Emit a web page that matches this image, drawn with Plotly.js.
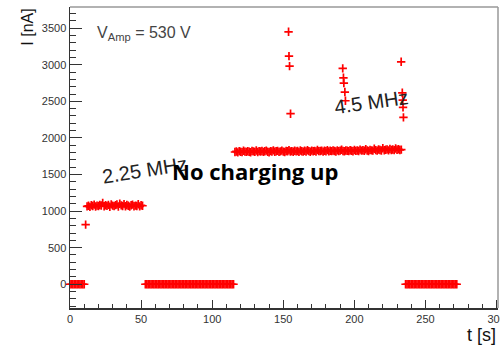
<!DOCTYPE html>
<html>
<head>
<meta charset="utf-8">
<script src="https://cdn.plot.ly/plotly-3.0.1.min.js"></script>
<style>html,body{margin:0;padding:0;background:#fff}#plot{width:500px;height:348px}</style>
</head>
<body>
<div id="plot"></div>
<script>
// Beam off (current at zero)
var t_off = [0,1,2,3,4,5,6,7,8,9,10,
  53,54,55,56,57,58,59,60,61,62,63,64,65,66,67,68,69,70,71,72,73,74,75,76,77,78,79,80,81,82,83,84,
  85,86,87,88,89,90,91,92,93,94,95,96,97,98,99,100,101,102,103,104,105,106,107,108,109,110,111,112,113,114,115,
  236,237,238,239,240,241,242,243,244,245,246,247,248,249,250,251,252,253,254,255,256,257,258,259,260,
  261,262,263,264,265,266,267,268,269,270,271,272];
var i_off = [0,0,0,0,0,0,0,0,0,0,0,
  0,0,0,0,0,0,0,0,0,0,0,0,0,0,0,0,0,0,0,0,0,0,0,0,0,0,0,0,0,0,0,0,
  0,0,0,0,0,0,0,0,0,0,0,0,0,0,0,0,0,0,0,0,0,0,0,0,0,0,0,0,0,0,0,
  0,0,0,0,0,0,0,0,0,0,0,0,0,0,0,0,0,0,0,0,0,0,0,0,0,
  0,0,0,0,0,0,0,0,0,0,0,0];

// 2.25 MHz plateau
var t_225 = [12,13,14,15,16,17,18,19,20,21,22,23,24,25,26,27,28,29,30,31,
  32,33,34,35,36,37,38,39,40,41,42,43,44,45,46,47,48,49,50,51];
var i_225 = [1065,1072,1058,1080,1070,1088,1062,1075,1069,1083,1077,1110,1066,1079,1071,1085,1060,1092,1074,1068,
  1081,1090,1063,1100,1078,1070,1095,1066,1084,1072,1061,1079,1088,1067,1075,1070,1093,1064,1080,1073];

// 4.5 MHz plateau
var t_45 = [116,117,118,119,120,121,122,123,124,125,126,127,128,129,130,131,132,133,134,135,
  136,137,138,139,140,141,142,143,144,145,146,147,148,149,150,151,152,153,154,155,
  156,157,158,159,160,161,162,163,164,165,166,167,168,169,170,171,172,173,174,175,
  176,177,178,179,180,181,182,183,184,185,186,187,188,189,190,191,192,193,194,195,
  196,197,198,199,200,201,202,203,204,205,206,207,208,209,210,211,212,213,214,215,
  216,217,218,219,220,221,222,223,224,225,226,227,228,229,230,231,232,233];
var i_45 = [1808,1815,1802,1820,1811,1806,1825,1813,1809,1818,1812,1804,1822,1816,1810,1828,1807,1819,1814,1821,
  1809,1817,1826,1811,1805,1820,1815,1830,1812,1818,1823,1810,1816,1827,1813,1808,1821,1817,1832,1814,
  1819,1811,1825,1816,1822,1809,1829,1818,1813,1824,1815,1831,1820,1812,1826,1817,1823,1814,1835,1819,
  1821,1827,1813,1824,1818,1833,1816,1825,1820,1829,1822,1815,1830,1819,1826,1838,1821,1817,1828,1824,
  1820,1832,1825,1818,1836,1823,1829,1821,1840,1826,1831,1824,1845,1828,1822,1837,1830,1826,1852,1833,
  1827,1841,1835,1829,1858,1832,1838,1844,1830,1848,1836,1842,1833,1856,1839,1845,1835,1840];

// Isolated points (transition and spikes)
var t_spk = [11, 153.7,154.0,154.4,155.1, 191.8,192.3,192.6,193.3,193.7, 232.9,233.7,234.0,234.2,234.5];
var i_spk = [815, 3451,3119,2982,2331, 2951,2822,2750,2627,2508, 3041,2617,2518,2418,2281];

var mk = {symbol:'cross-thin', size:6, color:'#ff0000', line:{width:1.7, color:'#ff0000'}};
function tr(x,y){ return {x:x, y:y, type:'scatter', mode:'markers', marker:mk, hoverinfo:'skip', cliponaxis:false}; }
var data = [tr(t_off,i_off), tr(t_225,i_225), tr(t_45,i_45), tr(t_spk,i_spk)];

var tickfont = {family:'Liberation Sans, Arial, sans-serif', size:11, color:'#333'};
var layout = {
  width:500, height:348,
  margin:{l:70, r:2, t:7, b:40},
  paper_bgcolor:'#fff', plot_bgcolor:'#fff',
  showlegend:false,
  xaxis:{range:[0,301], dtick:50, tick0:0, ticks:'inside', ticklen:8, tickwidth:1, tickcolor:'#333',
    minor:{dtick:10, ticks:'inside', ticklen:4, tickcolor:'#333'}, ticklabeloverflow:'allow',
    showline:true, linecolor:'#333', linewidth:1.5, showgrid:false, zeroline:false, tickfont:tickfont},
  yaxis:{range:[-325,3790], dtick:500, tick0:0, ticks:'inside', ticklen:12, tickwidth:1, tickcolor:'#333',
    minor:{dtick:100, ticks:'inside', ticklen:6, tickcolor:'#333'},
    showline:true, linecolor:'#333', linewidth:1.5, showgrid:false, zeroline:false, tickfont:tickfont},
  shapes:[
    {type:'line', xref:'paper', yref:'paper', x0:0, x1:1, y0:1, y1:1, line:{color:'#999', width:1.5}},
    {type:'line', xref:'paper', yref:'paper', x0:1, x1:1, y0:0, y1:1, line:{color:'#999', width:1.5}}
  ],
  annotations:[
    {xref:'paper', yref:'paper', x:-0.1, y:1.0, xanchor:'center', yanchor:'top', textangle:-90, showarrow:false,
     text:'I [nA]', font:{family:'Liberation Sans, Arial, sans-serif', size:16, color:'#111'}},
    {xref:'paper', yref:'paper', x:1.0, y:-0.05, xanchor:'right', yanchor:'top', showarrow:false,
     text:'t [s]', font:{family:'Liberation Sans, Arial, sans-serif', size:18, color:'#111'}},
    {xref:'x', yref:'y', x:17.6, y:3433, xanchor:'left', yanchor:'middle', showarrow:false,
     text:'V<sub>Amp</sub> = 530 V', font:{family:'Liberation Sans, Arial, sans-serif', size:16, color:'#444'}},
    {xref:'x', yref:'y', x:52.8, y:1560, xanchor:'center', yanchor:'middle', textangle:-9, showarrow:false,
     text:'2.25 MHz', font:{family:'Liberation Sans, Arial, sans-serif', size:20, color:'#222'}},
    {xref:'x', yref:'y', x:212, y:2496, xanchor:'center', yanchor:'middle', textangle:-8, showarrow:false,
     text:'4.5 MHz', font:{family:'Liberation Sans, Arial, sans-serif', size:20, color:'#222'}},
    {xref:'paper', yref:'paper', x:(255-70)/428, y:(308-171)/301, xanchor:'center', yanchor:'middle', showarrow:false,
     text:'<b>No charging up</b>', font:{family:'Open Sans, Noto Sans, sans-serif', size:22, color:'#000'}}
  ]
};
Plotly.newPlot('plot', data, layout, {staticPlot:true, displayModeBar:false});
</script>
</body>
</html>
